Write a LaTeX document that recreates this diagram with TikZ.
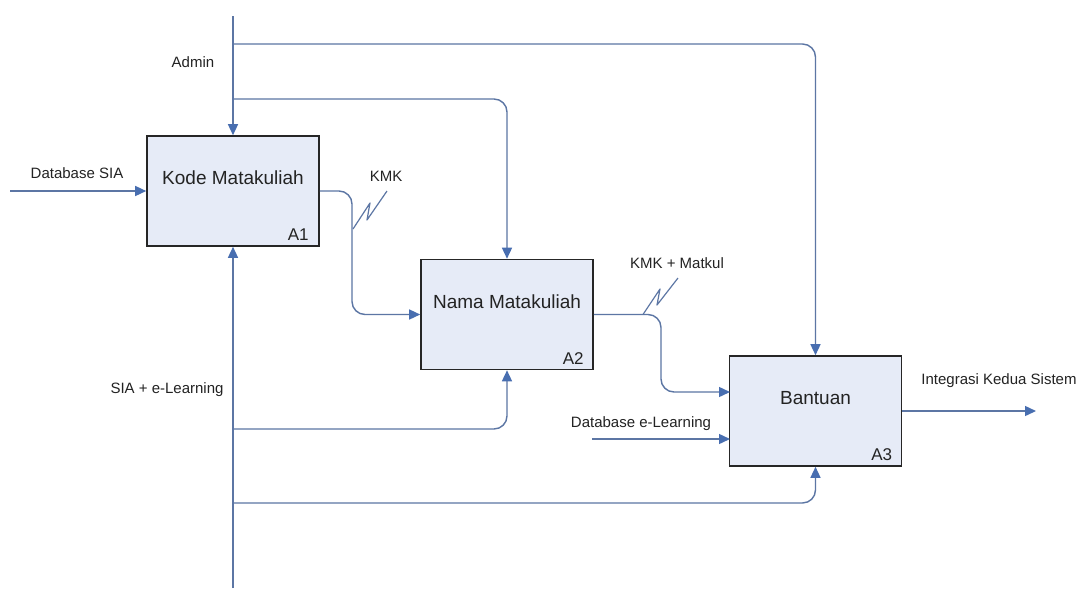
\documentclass[tikz,border=0pt]{standalone}
\usepackage{fontspec}
\setmainfont{Liberation Sans}
\usetikzlibrary{arrows.meta,calc}
\definecolor{lnblue}{RGB}{92,118,164}
\definecolor{arblue}{RGB}{72,110,176}
\definecolor{boxfill}{RGB}{230,235,247}
\definecolor{txt}{RGB}{35,35,35}
\begin{document}
\begin{tikzpicture}[x=1pt,y=-1pt,
  conn/.style={draw=lnblue, line width=1.4pt, rounded corners=13pt},
  arr/.style={conn, -{Triangle[length=11pt,width=10pt,color=arblue]}},
  proc/.style={draw=black!85, line width=1.6pt, fill=boxfill, minimum width=172pt, minimum height=110pt, inner sep=0pt},
  lbl/.style={font=\fontsize{15}{18}\selectfont, text=txt, inner sep=0pt},
  ttl/.style={font=\fontsize{19}{22}\selectfont, text=txt, inner sep=0pt},
  num/.style={font=\fontsize{17}{20}\selectfont, text=txt, anchor=base east, inner sep=0pt},
  squig/.style={draw=lnblue, line width=1.2pt, line join=round}
]
\useasboundingbox[fill=white] (0,0) rectangle (1080,590);

% boxes
\node[proc] (A1) at (233,191) {};
\node[proc] (A2) at (507,314.5) {};
\node[proc] (A3) at (815.5,411) {};

\node[ttl] (t1) at ($(A1.center)+(0,-13)$) {Kode Matakuliah};
\node[ttl] (t2) at ($(A2.center)+(0,-13)$) {Nama Matakuliah};
\node[ttl] (t3) at ($(A3.center)+(0,-13)$) {Bantuan};
\node[num] (n1) at ($(A1.south east)+(-11,-6)$) {A1};
\node[num] (n2) at ($(A2.south east)+(-10,-6)$) {A2};
\node[num] (n3) at ($(A3.south east)+(-10,-6)$) {A3};

% coordinates
\coordinate (adm) at (233,16);
\coordinate (j1) at (233,44);
\coordinate (j2) at (233,99);
\coordinate (mech) at (233,588);
\coordinate (m1) at (233,429);
\coordinate (m2) at (233,503);
\coordinate (dbsia) at (10,191);
\coordinate (dbel) at (592,439);
\coordinate (a3in2) at (730,439);
\coordinate (a3in1) at (730,392);
\coordinate (out) at (1036,411);

% controls
\draw[arr] (adm) -- (A1.north);
\draw[arr] (j1) -| (A3.north);
\draw[arr] (j2) -| (A2.north);

% mechanisms
\draw[arr] (mech) -- (A1.south);
\draw[arr] (m1) -| (A2.south);
\draw[arr] (m2) -| (A3.south);

% inputs / outputs
\draw[arr] (dbsia) -- (A1.west);
\draw[arr] (A1.east) -- (352,191) -- (352,314.5) -- (A2.west);
\draw[arr] (A2.east) -- (661,314.5) -- (661,392) -- (a3in1);
\draw[arr] (dbel) -- (a3in2);
\draw[arr] (A3.east) -- (out);

% squiggles
\draw[squig] (353,229) -- (370,203) -- (367,220) -- (387,191);
\draw[squig] (643,314.5) -- (660,289) -- (657,305) -- (678,278);

% labels
\node[lbl] (ladm) at (193,62) {Admin};
\node[lbl] (ldbsia) at (77,173) {Database SIA};
\node[lbl] (lkmk) at (386,176) {KMK};
\node[lbl] (lkmkm) at (677,263) {KMK + Matkul};
\node[lbl] (lsia) at (167,390) {SIA + e-Learning};
\node[lbl] (ldbel) at (641,424) {Database e-Learning};
\node[lbl] (lint) at (999,381) {Integrasi Kedua Sistem};
\end{tikzpicture}
\end{document}
